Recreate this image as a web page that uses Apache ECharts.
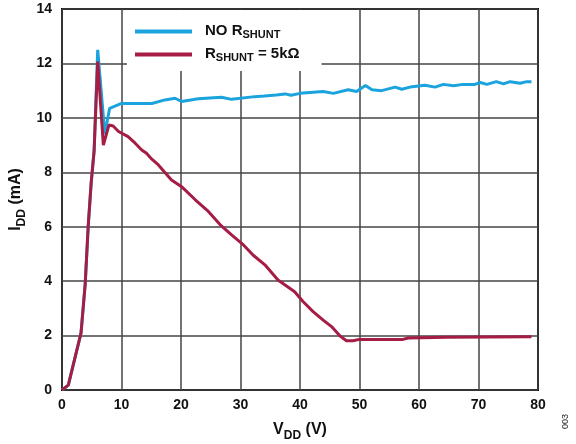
<!DOCTYPE html>
<html>
<head>
<meta charset="utf-8">
<script src="https://cdn.jsdelivr.net/npm/echarts@6/dist/echarts.min.js"></script>
<style>html,body{margin:0;padding:0;background:#fff}#c{width:576px;height:444px}</style>
</head>
<body>
<div id="c"></div>
<script>
// V_DD (V) and I_DD (mA) for the NO R_SHUNT series
var blueX = [0, 1.06, 3.2, 3.9, 4.4, 4.9, 5.4, 6.0, 7.2, 8.0, 10.0, 15.1, 17.3, 19.0, 20.1, 22.9, 26.8, 28.5, 32.4, 34.0, 36.0, 37.5, 38.5, 40.0, 43.9, 45.6, 48.1, 49.5, 51.0, 52.1, 53.7, 56.0, 57.1, 58.5, 61.0, 62.7, 64.1, 65.8, 67.4, 69.4, 70.3, 71.4, 73.0, 74.2, 75.3, 77.0, 78.1, 78.9];
var blueY = [0, 0.18, 2.1, 3.9, 6.0, 7.6, 8.8, 12.5, 9.4, 10.35, 10.53, 10.53, 10.66, 10.72, 10.6, 10.7, 10.76, 10.68, 10.78, 10.8, 10.84, 10.88, 10.83, 10.9, 10.97, 10.9, 11.03, 10.97, 11.19, 11.03, 11.0, 11.13, 11.05, 11.13, 11.2, 11.13, 11.23, 11.18, 11.23, 11.23, 11.3, 11.23, 11.33, 11.25, 11.33, 11.27, 11.33, 11.33];
// V_DD (V) and I_DD (mA) for the R_SHUNT = 5kΩ series
var redX = [0, 1.06, 3.2, 3.9, 4.4, 4.9, 5.4, 6.0, 6.95, 7.9, 8.6, 9.5, 11.1, 12.3, 13.4, 14.2, 15.1, 16.2, 18.4, 20.1, 22.4, 24.6, 26.6, 28.5, 30.5, 32.1, 34.1, 36.3, 39.1, 40.5, 42.2, 43.9, 45.3, 46.7, 47.8, 48.9, 50.0, 57.3, 58.2, 64.6, 64.9, 78.9];
var redY = [0, 0.18, 2.1, 3.9, 6.0, 7.6, 8.8, 12.07, 9.0, 9.74, 9.7, 9.5, 9.31, 9.07, 8.82, 8.7, 8.48, 8.27, 7.72, 7.47, 6.99, 6.56, 6.07, 5.7, 5.33, 4.96, 4.6, 4.04, 3.61, 3.25, 2.88, 2.57, 2.33, 1.99, 1.81, 1.81, 1.86, 1.86, 1.91, 1.94, 1.96, 1.96];
var seriesNames = ['NO RSHUNT', 'RSHUNT = 5kΩ'];
var xTicks = [0, 10, 20, 30, 40, 50, 60, 70, 80];
var yTicks = [0, 2, 4, 6, 8, 10, 12, 14];

function pairs(xs, ys) { return xs.map(function (x, i) { return [x, ys[i]]; }); }

var chart = echarts.init(document.getElementById('c'), null, {renderer: 'canvas'});
var font = 'Liberation Sans, Arial, sans-serif';
chart.setOption({
  animation: false,
  backgroundColor: '#fff',
  grid: {left: 62, right: 38, top: 9, bottom: 54, outerBoundsMode: 'none', containLabel: false,
         show: true, borderColor: '#000', borderWidth: 2, backgroundColor: 'transparent'},
  xAxis: {
    type: 'value', min: xTicks[0], max: xTicks[xTicks.length - 1], interval: 10,
    axisLine: {show: false}, axisTick: {show: false},
    splitLine: {show: true, lineStyle: {color: '#444', width: 1.5}},
    axisLabel: {color: '#111', fontSize: 14, fontWeight: 'bold', fontFamily: font, margin: 8},
    name: '{m|V}{s|DD}{m| (V)}', nameLocation: 'middle', nameGap: 32, nameMoveOverlap: false,
    nameTextStyle: {rich: {
      m: {fontSize: 16, fontWeight: 'bold', fontFamily: font, color: '#111', verticalAlign: 'top', lineHeight: 20},
      s: {fontSize: 12, fontWeight: 'bold', fontFamily: font, color: '#111', verticalAlign: 'bottom', lineHeight: 20, padding: [6, 0, 0, 0]}
    }}
  },
  yAxis: {
    type: 'value', min: yTicks[0], max: yTicks[yTicks.length - 1], interval: 2,
    axisLine: {show: false}, axisTick: {show: false},
    splitLine: {show: true, lineStyle: {color: '#444', width: 1.5}},
    axisLabel: {color: '#111', fontSize: 14, fontWeight: 'bold', fontFamily: font, margin: 10},
    name: '{m|I}{s|DD}{m| (mA)}', nameLocation: 'middle', nameGap: 34, nameRotate: 90, nameMoveOverlap: false,
    nameTextStyle: {rich: {
      m: {fontSize: 16, fontWeight: 'bold', fontFamily: font, color: '#111', verticalAlign: 'top', lineHeight: 20},
      s: {fontSize: 12, fontWeight: 'bold', fontFamily: font, color: '#111', verticalAlign: 'bottom', lineHeight: 20, padding: [6, 0, 0, 0]}
    }}
  },
  legend: {
    orient: 'vertical', left: 127, top: 10, itemGap: 6,
    backgroundColor: '#fff', padding: [13, 22, 8, 8],
    itemWidth: 57, itemHeight: 4, icon: 'rect',
    data: seriesNames,
    formatter: function (n) {
      return n === seriesNames[0] ? '{p|}{m|NO R}{s|SHUNT}' : '{p|}{m|R}{s|SHUNT}{m| = 5kΩ}';
    },
    textStyle: {rich: {
      p: {width: 8, lineHeight: 17},
      m: {fontSize: 15, fontWeight: 'bold', fontFamily: font, color: '#111', verticalAlign: 'top', lineHeight: 17},
      s: {fontSize: 11, fontWeight: 'bold', fontFamily: font, color: '#111', verticalAlign: 'bottom', lineHeight: 17, padding: [6, 0, 0, 0]}
    }}
  },
  series: [
    {name: seriesNames[0], type: 'line', data: pairs(blueX, blueY), showSymbol: false, symbol: 'none',
     lineStyle: {color: '#1aa3dc', width: 3}, itemStyle: {color: '#1aa3dc'}, z: 3},
    {name: seriesNames[1], type: 'line', data: pairs(redX, redY), showSymbol: false, symbol: 'none',
     lineStyle: {color: '#a51c45', width: 3}, itemStyle: {color: '#a51c45'}, z: 4}
  ],
  graphic: [{
    type: 'text', left: 561, top: 414, rotation: Math.PI / 2,
    style: {text: '003', fontSize: 9, fontFamily: font, fill: '#222'}
  }]
});
</script>
</body>
</html>
